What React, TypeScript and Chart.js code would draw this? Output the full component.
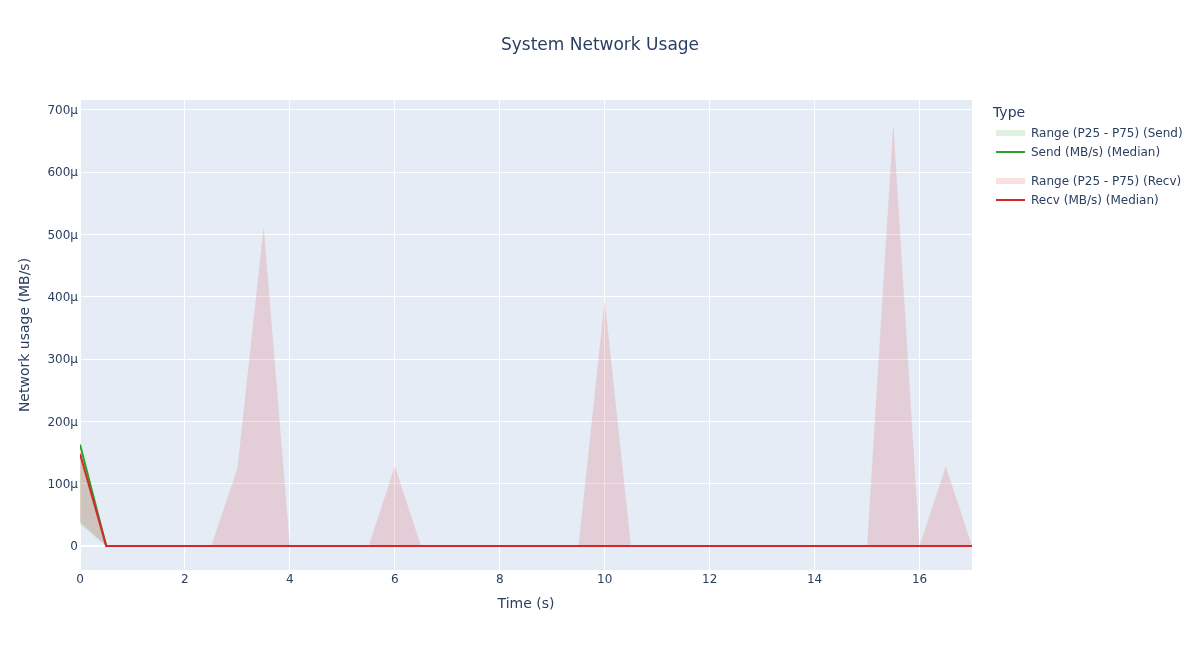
import React, { useEffect, useRef } from "react";
import { Chart, registerables } from "chart.js";

Chart.register(...registerables);

const timeSeconds = [
  0, 0.5, 1, 1.5, 2, 2.5, 3, 3.5, 4, 4.5, 5, 5.5, 6, 6.5, 7, 7.5, 8, 8.5, 9, 9.5,
  10, 10.5, 11, 11.5, 12, 12.5, 13, 13.5, 14, 14.5, 15, 15.5, 16, 16.5, 17,
];

// MB/s
const sendP25 = [
  35e-6, 0, 0, 0, 0, 0, 0, 0, 0, 0, 0, 0, 0, 0, 0, 0, 0, 0, 0, 0,
  0, 0, 0, 0, 0, 0, 0, 0, 0, 0, 0, 0, 0, 0, 0,
];
const sendP75 = [
  150e-6, 0, 0, 0, 0, 0, 0, 0, 0, 0, 0, 0, 0, 0, 0, 0, 0, 0, 0, 0,
  0, 0, 0, 0, 0, 0, 0, 0, 0, 0, 0, 0, 0, 0, 0,
];
const sendMedian = [
  163e-6, 0, 0, 0, 0, 0, 0, 0, 0, 0, 0, 0, 0, 0, 0, 0, 0, 0, 0, 0,
  0, 0, 0, 0, 0, 0, 0, 0, 0, 0, 0, 0, 0, 0, 0,
];
const recvP25 = [
  39e-6, 0, 0, 0, 0, 0, 0, 0, 0, 0, 0, 0, 0, 0, 0, 0, 0, 0, 0, 0,
  0, 0, 0, 0, 0, 0, 0, 0, 0, 0, 0, 0, 0, 0, 0,
];
const recvP75 = [
  140e-6, 0, 0, 0, 0, 0, 125e-6, 513e-6, 0, 0, 0, 0, 128e-6, 0, 0, 0, 0, 0, 0, 0,
  395e-6, 0, 0, 0, 0, 0, 0, 0, 0, 0, 0, 679e-6, 0, 128e-6, 0,
];
const recvMedian = [
  148e-6, 0, 0, 0, 0, 0, 0, 0, 0, 0, 0, 0, 0, 0, 0, 0, 0, 0, 0, 0,
  0, 0, 0, 0, 0, 0, 0, 0, 0, 0, 0, 0, 0, 0, 0,
];

const xTickValues = [0, 2, 4, 6, 8, 10, 12, 14, 16];
const yTickValues = [0, 100e-6, 200e-6, 300e-6, 400e-6, 500e-6, 600e-6, 700e-6];

const FONT = '"DejaVu Sans", Verdana, sans-serif';
const TEXT = "#2a3f5f";
const GREEN = "rgb(44,160,44)";
const RED = "rgb(214,39,40)";
const GREEN_BAND = "rgba(44,160,44,0.15)";
const RED_BAND = "rgba(214,39,40,0.15)";

const pts = (ys: number[]) => timeSeconds.map((x, i) => ({ x, y: ys[i] }));

const bgPlugin = {
  id: "plotBg",
  beforeDraw(chart: any) {
    const { ctx, chartArea } = chart;
    ctx.save();
    ctx.fillStyle = "#E5ECF6";
    ctx.fillRect(chartArea.left, chartArea.top, chartArea.right - chartArea.left, chartArea.bottom - chartArea.top);
    ctx.restore();
  },
};

export default function App() {
  const ref = useRef<HTMLCanvasElement | null>(null);

  useEffect(() => {
    if (!ref.current) return;
    const chart = new Chart(ref.current, {
      type: "line",
      data: {
        datasets: [
          { label: "sendLow", data: pts(sendP25), borderWidth: 0, pointRadius: 0, fill: false, borderColor: "rgba(0,0,0,0)", order: 5 },
          { label: "Range (P25 - P75) (Send)", data: pts(sendP75), borderWidth: 0, pointRadius: 0, fill: "-1", backgroundColor: GREEN_BAND, borderColor: "rgba(0,0,0,0)", order: 4 },
          { label: "Send (MB/s) (Median)", data: pts(sendMedian), borderWidth: 2, pointRadius: 0, fill: false, borderColor: GREEN, order: 1 },
          { label: "recvLow", data: pts(recvP25), borderWidth: 0, pointRadius: 0, fill: false, borderColor: "rgba(0,0,0,0)", order: 3 },
          { label: "Range (P25 - P75) (Recv)", data: pts(recvP75), borderWidth: 0, pointRadius: 0, fill: "-1", backgroundColor: RED_BAND, borderColor: "rgba(0,0,0,0)", order: 2 },
          { label: "Recv (MB/s) (Median)", data: pts(recvMedian), borderWidth: 2, pointRadius: 0, fill: false, borderColor: RED, order: 0 },
        ],
      },
      options: {
        responsive: false,
        animation: false,
        layout: { padding: { left: 0, right: 228, top: 100, bottom: 0 } },
        plugins: {
          legend: { display: false },
          title: { display: false },
          tooltip: { enabled: false },
          filler: { drawTime: "beforeDatasetsDraw" } as any,
        },
        scales: {
          x: {
            type: "linear",
            min: 0,
            max: 17,
            afterBuildTicks(scale: any) {
              scale.ticks = xTickValues.map((v) => ({ value: v }));
            },
            ticks: { color: TEXT, font: { family: FONT, size: 12 }, padding: 3, maxRotation: 0 },
            grid: { color: "#ffffff", lineWidth: 1, drawTicks: false },
            border: { display: false },
            title: { display: true, text: "Time (s)", color: TEXT, font: { family: FONT, size: 14 }, padding: { top: 0, bottom: 37 } },
            afterFit(scale: any) {
              scale.height = 80;
            },
          },
          y: {
            type: "linear",
            min: -38.5e-6,
            max: 716e-6,
            afterBuildTicks(scale: any) {
              scale.ticks = yTickValues.map((v) => ({ value: v }));
            },
            ticks: {
              color: TEXT,
              font: { family: FONT, size: 12 },
              padding: 2,
              labelOffset: 1,
              callback: (v: any) => {
                const n = Math.round(Number(v) * 1e6);
                return n === 0 ? "0" : `${n}μ`;
              },
            },
            grid: {
              color: "#ffffff",
              lineWidth: (c: any) => (c.tick && Math.abs(c.tick.value) < 1e-12 ? 2 : 1),
              drawTicks: false,
            },
            border: { display: false },
            title: { display: true, text: "Network usage (MB/s)", color: TEXT, font: { family: FONT, size: 14 }, padding: { top: 17, bottom: 0 } },
            afterFit(scale: any) {
              scale.width = 80;
            },
          },
        },
      },
      plugins: [bgPlugin],
    });
    return () => chart.destroy();
  }, []);

  const legendRow = (label: string, color: string, band: boolean, top: number) => (
    <div style={{ position: "absolute", left: 996, top: top - 8, height: 16, display: "flex", alignItems: "center" }}>
      <div style={{ width: 29, height: band ? 6 : 2, background: color, marginRight: 6 }} />
      <span style={{ fontSize: 12, color: TEXT, fontFamily: FONT, whiteSpace: "nowrap" }}>{label}</span>
    </div>
  );

  return (
    <div style={{ position: "absolute", left: 0, top: 0, width: 1200, height: 650, background: "#fff", fontFamily: FONT }}>
      <canvas ref={ref} width={1200} height={650} style={{ position: "absolute", left: 0, top: 0 }} />
      <div style={{ position: "absolute", left: 0, width: 1200, top: 34, textAlign: "center", fontSize: 17, color: TEXT }}>
        System Network Usage
      </div>
      <div style={{ position: "absolute", left: 993, top: 104, fontSize: 14, color: TEXT }}>Type</div>
      {legendRow("Range (P25 - P75) (Send)", GREEN_BAND, true, 133)}
      {legendRow("Send (MB/s) (Median)", GREEN, false, 152)}
      {legendRow("Range (P25 - P75) (Recv)", RED_BAND, true, 181)}
      {legendRow("Recv (MB/s) (Median)", RED, false, 200)}
    </div>
  );
}
